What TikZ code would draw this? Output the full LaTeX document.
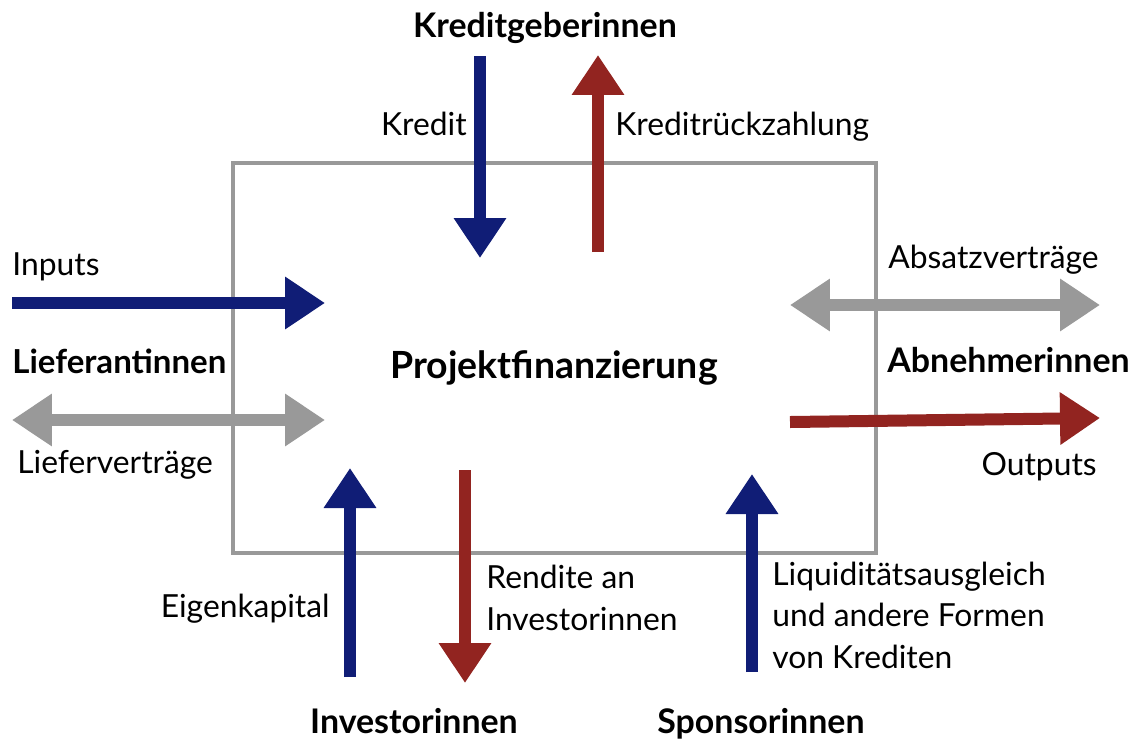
\documentclass[tikz,border=0pt]{standalone}
\usepackage{fontspec}
\setmainfont{Lato}
\usetikzlibrary{arrows.meta}
\definecolor{cblue}{RGB}{16,29,118}
\definecolor{cred}{RGB}{146,36,32}
\definecolor{cgray}{RGB}{153,153,153}
\begin{document}
\begin{tikzpicture}[x=0.02cm,y=-0.02cm,
  flow/.style={line width=0.24cm, -{Triangle[width=1cm,length=0.8cm]}},
  flowboth/.style={line width=0.24cm, {Triangle[width=1cm,length=0.8cm]}-{Triangle[width=1cm,length=0.8cm]}},
  lbl/.style={inner sep=0, font=\fontsize{18.1}{23.5}\selectfont},
  actor/.style={inner sep=0, font=\fontsize{19.3}{23.5}\selectfont\bfseries},
  framebox/.style={draw=cgray, line width=0.08cm}
]
\useasboundingbox (0,0) rectangle (1140,738);

% project box
\draw[framebox] (233,163) rectangle (876,553);
\node[inner sep=0, font=\fontsize{21.3}{25}\selectfont\bfseries, anchor=base] (proj) at (554,378) {Projektfinanzierung};

% actors
\node[actor, anchor=base] (kg) at (545,37) {Kreditgeberinnen};
\node[actor, anchor=base west, font=\fontsize{18.8}{23.5}\selectfont\bfseries] (lief) at (12,373) {Lieferantinnen};
\node[actor, anchor=base west] (abn) at (887,372) {Abnehmerinnen};
\node[actor, anchor=base] (inv) at (414,733) {Investorinnen};
\node[actor, anchor=base] (spon) at (761,733) {Sponsorinnen};

% flow labels
\node[lbl, anchor=base east] (tkredit) at (467,135) {Kredit};
\node[lbl, anchor=base west] (trueck) at (615,135) {Kreditrückzahlung};
\node[lbl, anchor=base west] (tinputs) at (12,275) {Inputs};
\node[lbl, anchor=base west] (tlv) at (17,473) {Lieferverträge};
\node[lbl, anchor=base west] (tabs) at (888,268) {Absatzverträge};
\node[lbl, anchor=base east] (tout) at (1097,475) {Outputs};
\node[lbl, anchor=base east] (tek) at (330,617) {Eigenkapital};
\node[lbl, anchor=base west, align=left] (trend) at (486,630) {Rendite an\\Investorinnen};
\node[lbl, anchor=base west, align=left] (tliq) at (772,668) {Liquiditätsausgleich\\und andere Formen\\von Krediten};

% arrow end points
\coordinate (kA) at (480,56);   \coordinate (kB) at (480,258);
\coordinate (rA) at (598,252);  \coordinate (rB) at (598,55);
\coordinate (iA) at (12,303);   \coordinate (iB) at (325,303);
\coordinate (lA) at (12,420);   \coordinate (lB) at (325,420);
\coordinate (aA) at (790,305);  \coordinate (aB) at (1100,305);
\coordinate (oA) at (790,422);  \coordinate (oB) at (1100,418);
\coordinate (eA) at (350,677);  \coordinate (eB) at (350,468);
\coordinate (dA) at (465,470);  \coordinate (dB) at (465,683);
\coordinate (sA) at (752,672);  \coordinate (sB) at (752,474);

% arrows
\draw[flow, cblue] (kA) -- (kB);
\draw[flow, cred] (rA) -- (rB);
\draw[flow, cblue] (iA) -- (iB);
\draw[flowboth, cgray] (lA) -- (lB);
\draw[flowboth, cgray] (aA) -- (aB);
\draw[flow, cred] (oA) -- (oB);
\draw[flow, cblue] (eA) -- (eB);
\draw[flow, cred] (dA) -- (dB);
\draw[flow, cblue] (sA) -- (sB);
\end{tikzpicture}
\end{document}
